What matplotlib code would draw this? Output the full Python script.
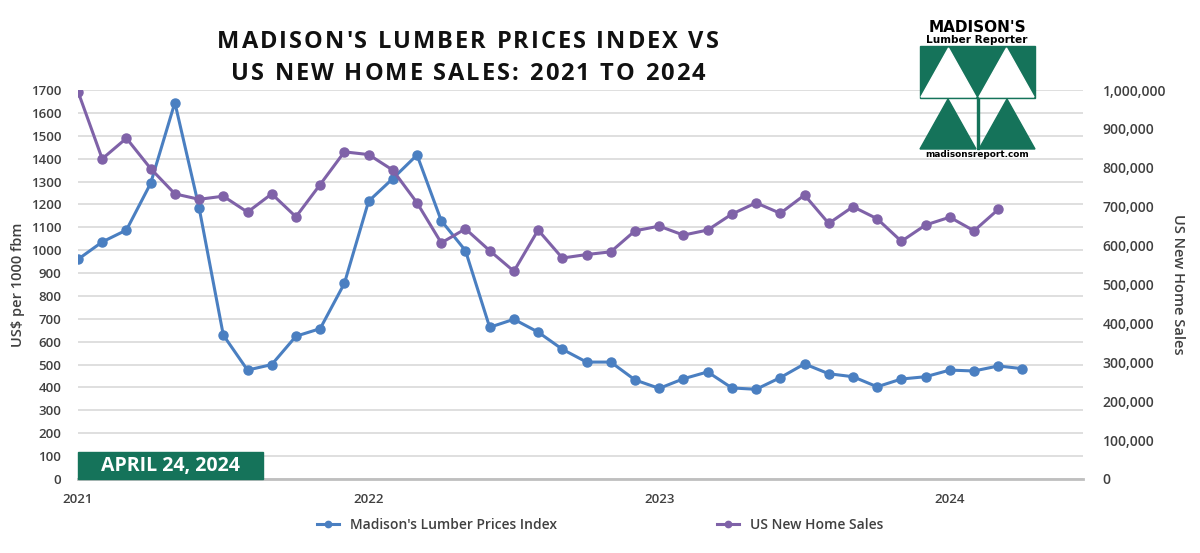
import numpy as np
import matplotlib.pyplot as plt
from matplotlib.patches import Rectangle, Polygon
from matplotlib.ticker import FuncFormatter

plt.rcParams['font.family'] = ['Open Sans', 'DejaVu Sans']

# monthly data, Jan 2021 .. Apr 2024
lumber = [960, 1036, 1088, 1292, 1645, 1186, 629, 476, 500, 624, 657, 855,
          1214, 1313, 1416, 1129, 998, 663, 698, 642, 567, 511, 511, 433,
          396, 438, 468, 398, 392, 443, 503, 460, 447, 403, 437, 447,
          476, 472, 494, 482]
home_sales = [996000, 823000, 876000, 798000, 733000, 719000, 727000, 686000,
              733000, 674000, 757000, 841000, 834000, 794000, 710000, 607000,
              643000, 587000, 534000, 640000, 568000, 577000, 584000, 638000,
              650000, 627000, 640000, 681000, 710000, 683000, 730000, 657000,
              700000, 669000, 611000, 653000, 673000, 638000, 693000]
year_labels = ['2021', '2022', '2023', '2024']
title_lines = ["MADISON'S LUMBER PRICES INDEX VS",
               "US NEW HOME SALES: 2021 TO 2024"]

blue = '#4a7fc1'
purple = '#7f62a8'
green = '#15735a'
tick_col = '#404040'

fig = plt.figure(figsize=(12, 5.53), dpi=100)
ax = fig.add_axes([78/1200, 1-479/553, (1083-78)/1200, (479-90)/553])
ax2 = ax.twinx()

x1 = np.arange(len(lumber))
x2 = np.arange(len(home_sales))
l1, = ax.plot(x1, lumber, color=blue, lw=2.2, marker='o', ms=6.5, zorder=3,
              label="Madison's Lumber Prices Index")
l2, = ax2.plot(x2, home_sales, color=purple, lw=2.2, marker='o', ms=6.5,
               label='US New Home Sales')

ax.set_xlim(0, 41.5)
ax.set_ylim(0, 1700)
ax2.set_ylim(0, 1000000)
ax.set_yticks(range(0, 1701, 100))
ax2.set_yticks(range(0, 1000001, 100000))
ax2.yaxis.set_major_formatter(FuncFormatter(lambda v, p: f'{int(v):,}'))
ax.set_xticks([0, 12, 24, 36])
ax.set_xticklabels(year_labels)

ax.grid(axis='y', color='#d9d9d9', lw=1.2)
ax.set_axisbelow(True)
for a in (ax, ax2):
    for s in a.spines.values():
        s.set_visible(False)
ax.spines['bottom'].set_visible(True)
ax.spines['bottom'].set_color('#bfbfbf')
ax.spines['bottom'].set_linewidth(2)
ax.tick_params(axis='both', length=0, labelsize=9.5, labelcolor=tick_col, pad=12)
ax.tick_params(axis='x', pad=10)
ax2.tick_params(axis='y', length=0, labelsize=10, labelcolor=tick_col, pad=14)
for t in ax.get_xticklabels() + ax.get_yticklabels() + ax2.get_yticklabels():
    t.set_fontweight('semibold')

ax.set_ylabel('US$ per 1000 fbm', fontsize=10.5, color=tick_col, labelpad=4,
              fontweight='semibold')
ax2.set_ylabel('US New Home Sales', fontsize=10.5, color=tick_col,
               rotation=270, labelpad=14, fontweight='semibold')

# letter-spaced title
renderer = fig.canvas.get_renderer()
def spaced_line(s, yc, size, extra):
    parts = []
    total = 0
    for ch in s:
        if ch == ' ':
            parts.append((None, 6.5))
            total += 6.5 + extra
            continue
        t = fig.text(0, 0, ch, fontsize=size, fontweight='bold', color='#111111',
                     va='center', ha='left')
        w = t.get_window_extent(renderer).width
        parts.append((t, w))
        total += w + extra
    total -= extra
    xpos = 468 - total / 2
    for t, w in parts:
        if t is not None:
            t.set_position((xpos / 1200, 1 - yc / 553))
        xpos += w + extra

spaced_line(title_lines[0], 42, 17, 2.0)
spaced_line(title_lines[1], 74, 17, 2.0)

fig.legend(handles=[l1, l2], loc='center', bbox_to_anchor=(0.5, 1-525/553),
           ncol=2, frameon=False, fontsize=10, columnspacing=11.5,
           markerscale=0.7, handlelength=1.6, labelcolor=tick_col,
           prop={'weight': 'semibold', 'size': 10})

# date box
ax.add_patch(Rectangle((0, 0), 7.65, 118, transform=ax.transData,
                       color=green, zorder=4, clip_on=False))
ax.text(3.82, 58, 'APRIL 24, 2024', color='white', fontsize=14,
        fontweight='bold', ha='center', va='center', zorder=5)

# logo
lg = fig.add_axes([915/1200, 1-165/553, 125/1200, 145/553])
lg.set_xlim(915, 1040)
lg.set_ylim(165, 20)
lg.axis('off')
lg.text(977, 28, "MADISON'S", ha='center', va='center', fontsize=11,
        fontweight='bold', color='black', family='DejaVu Sans')
lg.text(977, 40, 'Lumber Reporter', ha='center', va='center', fontsize=7.6,
        fontweight='bold', color='black', family='DejaVu Sans')
lg.add_patch(Rectangle((920, 46), 115, 52, color=green))
lg.add_patch(Polygon([(921, 97), (976, 97), (948.5, 48)], color='white'))
lg.add_patch(Polygon([(979, 97), (1034, 97), (1006.5, 48)], color='white'))
lg.add_patch(Polygon([(920, 149), (976, 149), (948, 99)], color=green))
lg.add_patch(Polygon([(979, 149), (1035, 149), (1007, 99)], color=green))
lg.add_patch(Rectangle((976.5, 98), 2, 51, color=green))
lg.text(977, 155, 'madisonsreport.com', ha='center', va='center',
        fontsize=6.4, fontweight='bold', color='black', family='DejaVu Sans')

fig.savefig('out.png', dpi=100, facecolor='white')
